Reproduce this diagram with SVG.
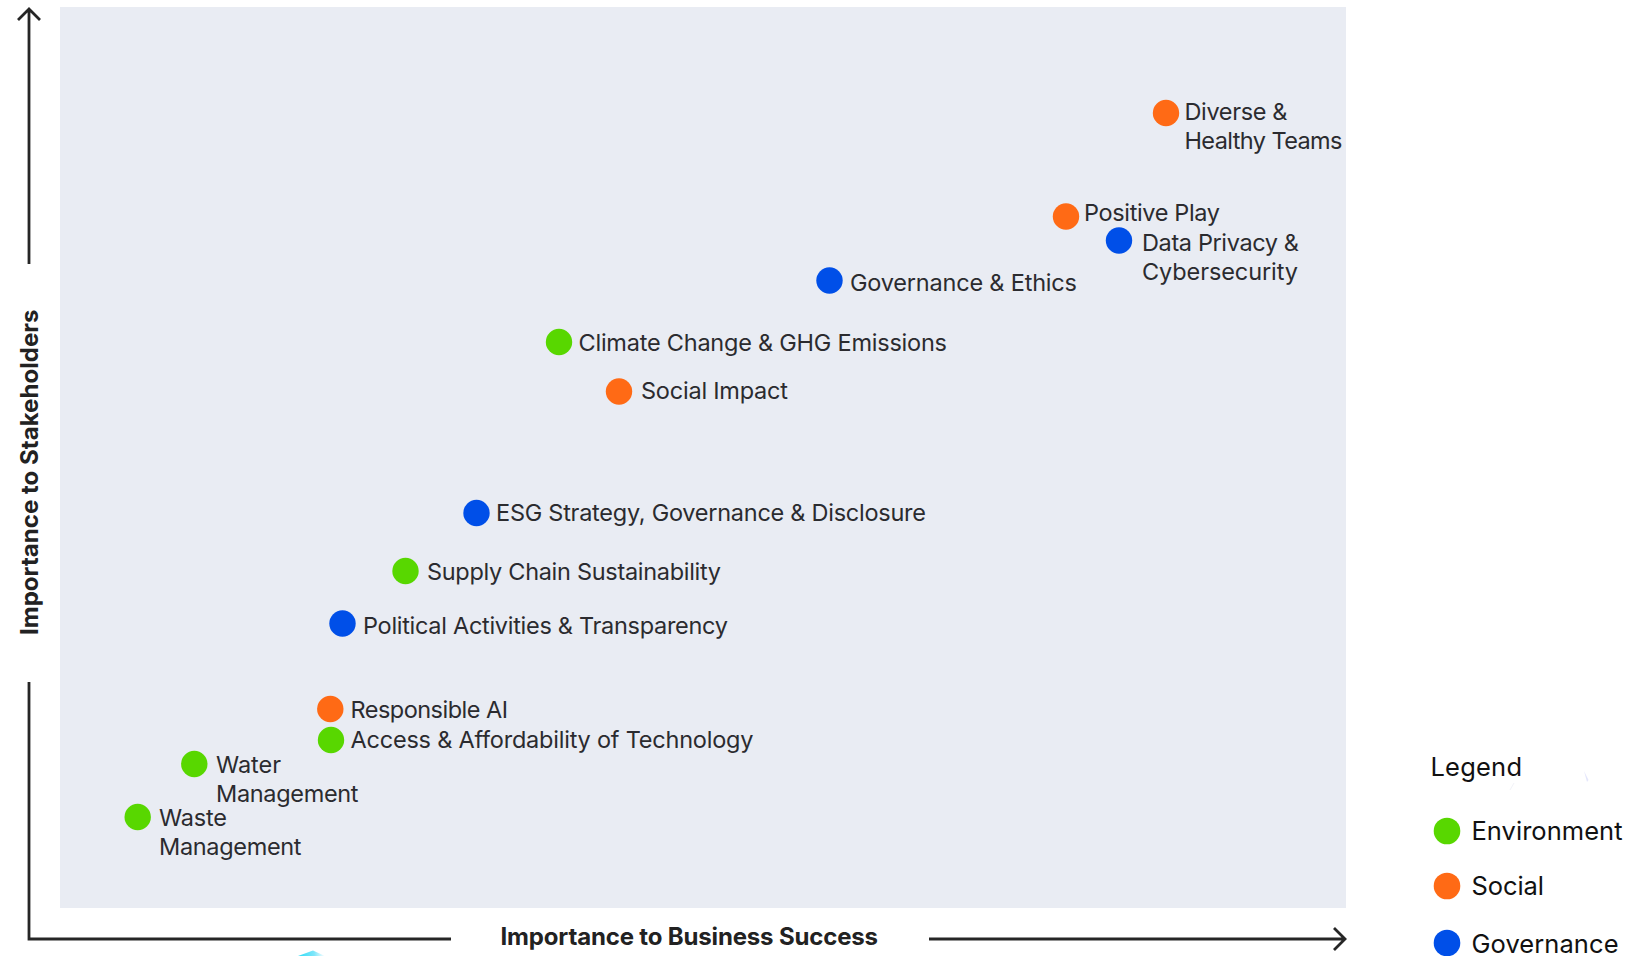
<svg xmlns="http://www.w3.org/2000/svg" width="1645" height="956" viewBox="0 0 1645 956">
<defs>
<linearGradient id="cy" x1="0" y1="0" x2="1" y2="0"><stop offset="0" stop-color="#2fdcf5"/><stop offset="0.6" stop-color="#7fe6fa"/><stop offset="1" stop-color="#fff"/></linearGradient>
</defs>
<style>
text{font-family:"Inter","Noto Sans",sans-serif;font-size:23.5px;fill:#2b2b2f}
.lg{fill:#111;font-size:25.5px}
.ax{font-weight:700;font-size:24px;fill:#222}
.e{fill:#58d700}.s{fill:#ff6a15}.g{fill:#004fe8}
.l{fill:none;stroke:#262626;stroke-width:2.8}
</style>
<rect x="60" y="7" width="1286" height="901" fill="#e9ecf3"/>
<path d="M298 956L313 950.500L325 956Z" fill="url(#cy)"/>
<path d="M1584 771L1587 782L1588.500 780Z" fill="#e4e6fb"/>
<path d="M1510 790L1514 783" stroke="#f2f3f8" fill="none"/>
<g id="connectors">
<path class="l" d="M29 264V9M18 20L29 9L40 20"/>
<path class="l" d="M29 682V939H451"/>
<path class="l" d="M929 939H1345M1334 928L1345 939L1334 950"/>
</g>
<g id="diverse"><circle class="s" cx="1166" cy="113" r="13.200"/><text x="1184.500" y="120" textLength="103">Diverse &amp;</text><text x="1184.500" y="149" textLength="158">Healthy Teams</text></g>
<g id="positive"><circle class="s" cx="1066" cy="216.500" r="13.200"/><text x="1084" y="221" textLength="136">Positive Play</text></g>
<g id="data"><circle class="g" cx="1119" cy="240.500" r="13.200"/><text x="1142" y="251" textLength="157">Data Privacy &amp;</text><text x="1142" y="280" textLength="156">Cybersecurity</text></g>
<g id="governance"><circle class="g" cx="829.500" cy="280.500" r="13.200"/><text x="850" y="291" textLength="227">Governance &amp; Ethics</text></g>
<g id="climate"><circle class="e" cx="559" cy="342" r="13.200"/><text x="578.500" y="351" textLength="368.500">Climate Change &amp; GHG Emissions</text></g>
<g id="social-impact"><circle class="s" cx="619" cy="391.500" r="13.200"/><text x="641" y="399" textLength="147">Social Impact</text></g>
<g id="esg"><circle class="g" cx="476.500" cy="513" r="13.200"/><text x="496" y="521" textLength="430">ESG Strategy, Governance &amp; Disclosure</text></g>
<g id="supply"><circle class="e" cx="405.500" cy="571" r="13.200"/><text x="427" y="580" textLength="294">Supply Chain Sustainability</text></g>
<g id="political"><circle class="g" cx="342.500" cy="623.500" r="13.200"/><text x="363" y="634" textLength="365">Political Activities &amp; Transparency</text></g>
<g id="responsible"><circle class="s" cx="330.300" cy="709" r="13.200"/><text x="350.500" y="718" textLength="157.500">Responsible AI</text></g>
<g id="access"><circle class="e" cx="331" cy="740" r="13.200"/><text x="350.500" y="748" textLength="403">Access &amp; Affordability of Technology</text></g>
<g id="water"><circle class="e" cx="194.300" cy="764" r="13.200"/><text x="216" y="773" textLength="65">Water</text><text x="216" y="802" textLength="142.500">Management</text></g>
<g id="waste"><circle class="e" cx="137.700" cy="817" r="13.200"/><text x="159" y="826" textLength="68">Waste</text><text x="159" y="855" textLength="142.500">Management</text></g>
<g id="legend">
<text class="lg" x="1430.500" y="776" textLength="91.500">Legend</text>
<circle class="e" cx="1447" cy="831" r="13.300"/><text class="lg" x="1471.500" y="840" textLength="151">Environment</text>
<circle class="s" cx="1447" cy="886" r="13.300"/><text class="lg" x="1471.500" y="895" textLength="72.500">Social</text>
<circle class="g" cx="1447" cy="943" r="13.300"/><text class="lg" x="1471.500" y="953" textLength="147">Governance</text>
</g>
<text class="ax" x="500.500" y="945" textLength="377.500">Importance to Business Success</text>
<text class="ax" transform="translate(38,635) rotate(-90)" textLength="325.500">Importance to Stakeholders</text>
</svg>
